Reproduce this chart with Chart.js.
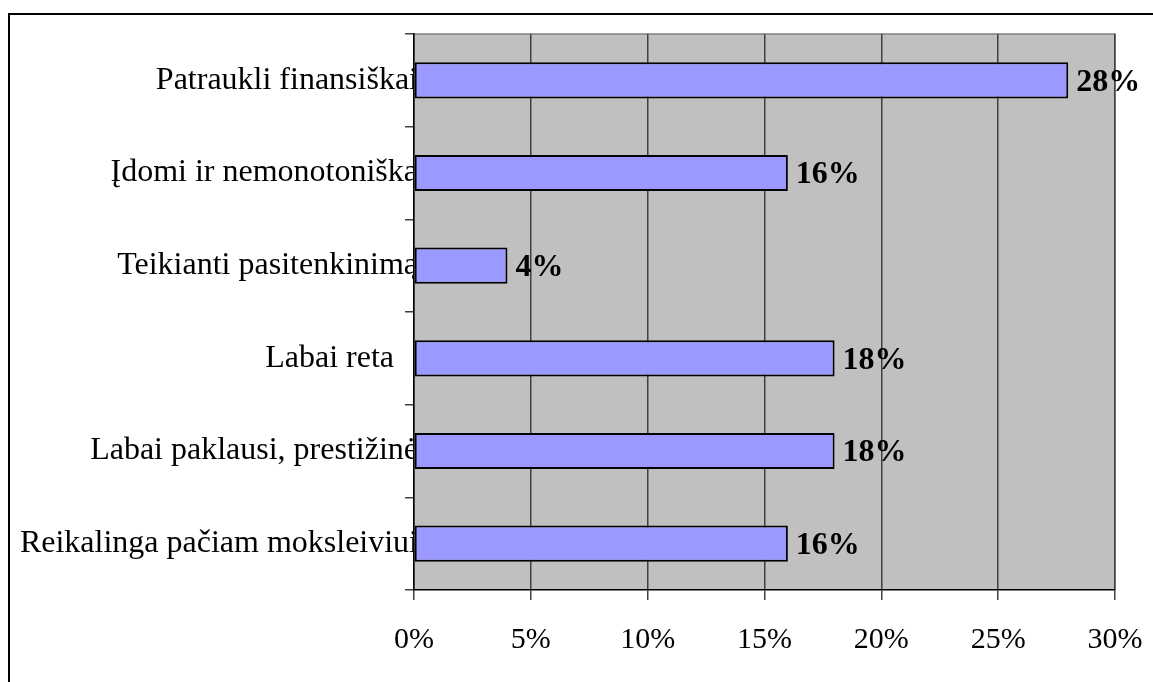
<!DOCTYPE html>
<html>
<head>
<meta charset="utf-8">
<script src="https://cdn.jsdelivr.net/npm/chart.js@4.4.1/dist/chart.umd.min.js"></script>
<style>
  html, body { margin: 0; padding: 0; background: #fff; }
  #wrap { width: 1153px; height: 682px; position: relative; }
</style>
</head>
<body>
<div id="wrap"><canvas id="barChart" width="1153" height="682"></canvas></div>
<script>
// --- data ---
const categories = [
    'Patraukli finansiškai',
    'Įdomi ir nemonotoniška',
    'Teikianti pasitenkinimą',
    'Labai reta   ',
    'Labai paklausi, prestižinė',
    'Reikalinga pačiam moksleiviui'
];
const shares = [28, 16, 4, 18, 18, 16];
const xTicks = [0, 5, 10, 15, 20, 25, 30];

const serif = "'Liberation Serif', 'Times New Roman', serif";

// pilkas fonas + rėmelis aplink brėžinį
const framePlugin = {
    id: 'frame',
    beforeDraw(chart) {
        const { ctx, chartArea: a } = chart;
        ctx.save();
        ctx.fillStyle = '#fff';
        ctx.fillRect(0, 0, chart.width, chart.height);
        ctx.strokeStyle = '#000';
        ctx.lineWidth = 2;
        ctx.strokeRect(9, 14, chart.width + 10, chart.height + 10);
        ctx.fillStyle = '#c0c0c0';
        ctx.fillRect(a.left, a.top, a.right - a.left, a.bottom - a.top);
        ctx.strokeStyle = '#808080';
        ctx.lineWidth = 1.5;
        ctx.beginPath();
        ctx.moveTo(a.left, a.top);
        ctx.lineTo(a.right, a.top);
        ctx.lineTo(a.right, a.bottom);
        ctx.stroke();
        ctx.restore();
    }
};

// reikšmės šalia stulpelių
const valueLabels = {
    id: 'valueLabels',
    afterDatasetsDraw(chart) {
        const { ctx } = chart;
        const meta = chart.getDatasetMeta(0);
        ctx.save();
        ctx.font = 'bold 32px ' + serif;
        ctx.fillStyle = '#000';
        ctx.textAlign = 'left';
        ctx.textBaseline = 'middle';
        meta.data.forEach((bar, i) => {
            ctx.fillText(shares[i] + '%', bar.x + 8, bar.y + 2);
        });
        ctx.restore();
    }
};

const ctx = document.getElementById('barChart').getContext('2d');
new Chart(ctx, {
    type: 'bar',
    data: {
        labels: categories,
        datasets: [{
            data: shares,
            backgroundColor: '#9999ff',
            borderColor: '#000',
            borderWidth: 2,
            borderSkipped: false,
            categoryPercentage: 1,
            barPercentage: 0.39
        }]
    },
    options: {
        indexAxis: 'y',
        responsive: false,
        animation: false,
        layout: { padding: { left: 0, top: 34, right: 38, bottom: 0 } },
        scales: {
            x: {
                min: 0,
                max: 30,
                afterBuildTicks: (scale) => { scale.ticks = xTicks.map(v => ({ value: v })); },
                afterFit: (scale) => {
                    scale.height = 92;
                    scale.paddingLeft = 0;
                    scale.paddingRight = 0;
                },
                grid: {
                    color: '#404040',
                    lineWidth: 1.5,
                    tickLength: 10
                },
                border: { color: '#000', width: 1.5 },
                ticks: {
                    padding: 22,
                    color: '#000',
                    font: { family: serif, size: 30 },
                    callback: (v) => v + '%'
                }
            },
            y: {
                afterFit: (scale) => { scale.width = 414; },
                grid: {
                    offset: true,
                    drawOnChartArea: false,
                    color: '#404040',
                    lineWidth: 1.5,
                    tickLength: 9
                },
                border: { color: '#000', width: 1.5 },
                ticks: {
                    padding: -13,
                    color: '#000',
                    font: { family: serif, size: 32 }
                }
            }
        },
        plugins: {
            legend: { display: false },
            tooltip: { enabled: false }
        }
    },
    plugins: [framePlugin, valueLabels]
});
</script>
</body>
</html>
